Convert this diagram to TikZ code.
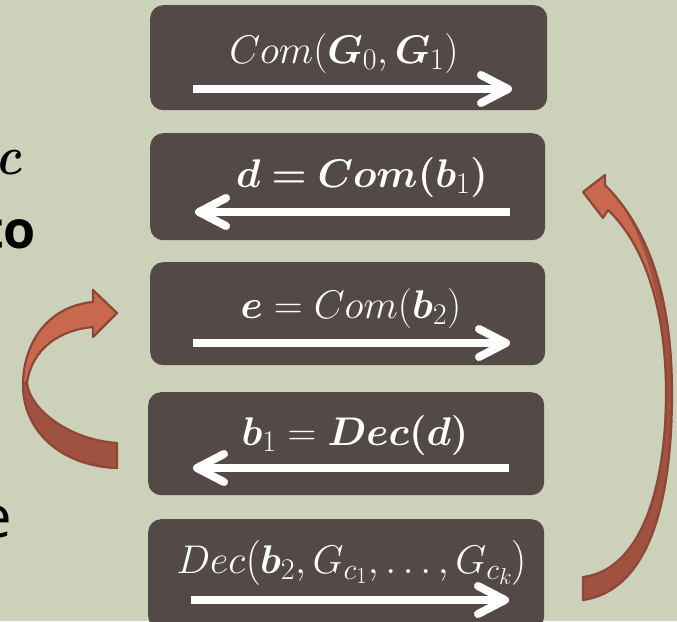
\RequirePackage{fix-cm}
\documentclass[tikz,border=0pt]{standalone}
\usepackage{amsmath}
\usepackage{bm}
\usepackage{fontspec}
\newfontfamily\slidesans{Open Sans}
\usetikzlibrary{calc}
\DeclareMathSizes{40}{40}{30}{23}
\definecolor{bgc}{HTML}{CCD1B9}
\definecolor{boxc}{HTML}{534A48}
\definecolor{arrlight}{HTML}{C8694F}
\definecolor{arrdark}{HTML}{9E523F}
\definecolor{arrline}{HTML}{8F4636}
\tikzset{
  stepbox/.style={fill=boxc, draw=none, rounded corners=13pt, anchor=north west, inner sep=0pt, minimum width=397pt, minimum height=105pt},
  lbl/.style={text=white, anchor=base, inner sep=0pt, font=\fontsize{40}{48}\selectfont},
  shaft/.style={draw=white, line width=8pt, line cap=butt},
  barb/.style={draw=white, line width=8pt, line cap=round, line join=round},
  bentlight/.style={fill=arrlight, draw=arrline, line width=2.2pt, line join=round},
  bentdark/.style={fill=arrdark, draw=arrline, line width=2.2pt, line join=round},
  frag/.style={text=black, inner sep=0pt, anchor=base east}
}
\begin{document}
\begin{tikzpicture}[x=1pt,y=-1pt]
\useasboundingbox (0,0) rectangle (677,621);
\fill[bgc] (0,0) rectangle (677,621);
\clip (0,0) rectangle (677,621);

% partial text at the left edge
\node[frag, font=\fontsize{54}{60}\selectfont, xscale=0.85] (fc) at (22,174) {$\bm{c}$};
\node[frag, font=\slidesans\bfseries\fontsize{52}{60}\selectfont] (fto) at (36,248) {to};
\node[frag, font=\slidesans\fontsize{58}{66}\selectfont] (fe) at (12,537) {e};

% boxes
\node[stepbox] (b1) at (150,5) {};
\node[stepbox, minimum width=395pt, minimum height=107pt] (b2) at (150,133) {};
\node[stepbox, minimum width=395pt, minimum height=103pt] (b3) at (150,262) {};
\node[stepbox, minimum width=396pt, minimum height=103pt] (b4) at (148,392) {};
\node[stepbox, minimum width=396pt, minimum height=110pt] (b5) at (148,519) {};

% labels
\node[lbl] (t1) at (344,63) {$Com(\bm{G}_0,\bm{G}_1)$};
\node[lbl] (t2) at (362,187) {$\bm{d} \bm{=} \bm{Com}\bm{(}\bm{b}_1\bm{)}$};
\node[lbl] (t3) at (351,318) {$\bm{e} = Com(\bm{b}_2)$};
\node[lbl] (t4) at (355,445) {$\bm{b}_1 = \bm{Dec}\bm{(}\bm{d}\bm{)}$};
\node[lbl] (t5) at (352,573) {$Dec\bigl(\bm{b}_2,G_{c_1},\dots,G_{c_k}\bigr)$};

% white arrows inside the boxes
\draw[shaft] (193,89) -- (508,89);
\draw[barb] (481,75) -- (508,89) -- (481,103);
\draw[shaft] (510,212) -- (199,212);
\draw[barb] (226,198) -- (199,212) -- (226,226);
\draw[shaft] (193,343) -- (506,343);
\draw[barb] (479,329) -- (506,343) -- (479,357);
\draw[shaft] (509,468) -- (197,468);
\draw[barb] (224,454) -- (197,468) -- (224,482);
\draw[shaft] (191,600) -- (505,600);
\draw[barb] (478,586) -- (505,600) -- (478,614);

% left bent arrow
\path[bentdark] (23,383) .. controls (22,430) and (60,466) .. (117,468) -- (117,443)
  .. controls (70,440) and (30,410) .. (27,383) -- cycle;
\path[bentlight] (23,383) .. controls (24,340) and (50,306) .. (93,302) -- (93,290) -- (117,313)
  -- (93,337) -- (93,327) .. controls (60,330) and (32,348) .. (27,383) -- cycle;

% right bent arrow
\fill[arrdark] (583,600) .. controls (650,590) and (672,500) .. (672,393)
  .. controls (672,300) and (650,230) .. (605,185) -- (605,175) -- (583,192) -- (603,218) -- (608,210)
  .. controls (645,245) and (666,310) .. (666,393) .. controls (666,490) and (640,570) .. (583,577) -- cycle;
\fill[arrlight] (605,185) -- (605,175) -- (583,192) -- (603,218) -- (608,210)
  .. controls (645,245) and (666,310) .. (666,400) .. controls (667,310) and (645,225) .. (605,185) -- cycle;
\draw[arrline, line width=2.2pt, line join=round] (583,600) .. controls (650,590) and (672,500) .. (672,393)
  .. controls (672,300) and (650,230) .. (605,185) -- (605,175) -- (583,192) -- (603,218) -- (608,210)
  .. controls (645,245) and (666,310) .. (666,393) .. controls (666,490) and (640,570) .. (583,577) -- cycle;
\end{tikzpicture}
\end{document}
